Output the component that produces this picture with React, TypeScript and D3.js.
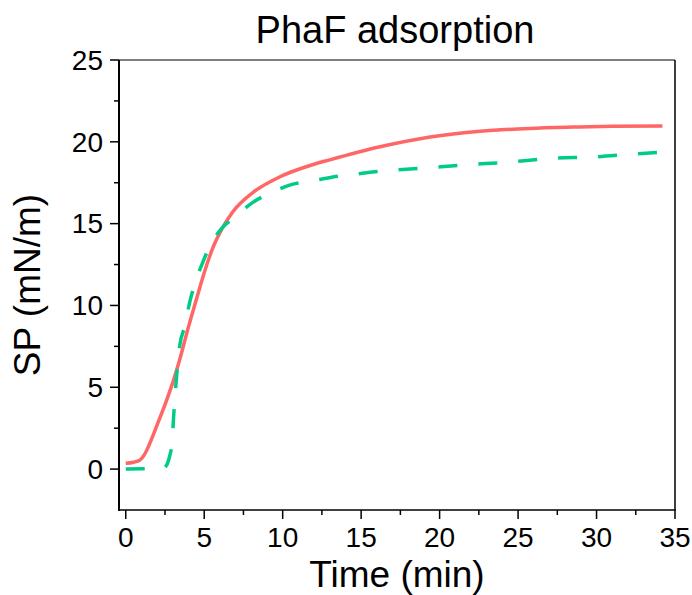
import React from "react";
import * as d3 from "d3";

const title = "PhaF adsorption";
const xLabel = "Time (min)";
const yLabel = "SP (mN/m)";
const xTicks = [0, 5, 10, 15, 20, 25, 30, 35];
const yTicks = [0, 5, 10, 15, 20, 25];

const redT = [0, 0.5, 0.9, 1.2, 1.5, 2.0, 2.6, 3.0, 3.44, 4.0, 4.6, 5.0, 5.5, 6.2, 6.8, 8.1, 9.8, 11.9, 13.0, 16.2, 19.4, 22.6, 25.7, 28.5, 31.0, 34.2];
const redSP = [0.35, 0.42, 0.55, 0.9, 1.5, 2.7, 4.2, 5.3, 6.7, 8.7, 10.7, 12.0, 13.4, 14.8, 15.7, 16.9, 17.85, 18.6, 18.9, 19.7, 20.3, 20.65, 20.82, 20.9, 20.95, 20.97];

const greenT = [0, 1.0, 2.4, 2.5, 2.8, 2.95, 3.05, 3.2, 3.45, 3.75, 4.1, 4.5, 4.85, 5.35, 6.1, 6.95, 8.1, 9.3, 10.6, 11.85, 13.2, 14.4, 15.7, 19.1, 21.7, 24.3, 27.2, 29.8, 32.3, 34.9];
const greenSP = [0.0, 0.02, 0.05, 0.1, 0.8, 1.6, 3.2, 5.2, 7.6, 8.7, 10.3, 11.6, 12.5, 13.6, 14.7, 15.4, 16.3, 16.9, 17.4, 17.6, 17.85, 18.0, 18.15, 18.4, 18.6, 18.75, 19.0, 19.07, 19.25, 19.4];

const W = 692;
const H = 595;
const left = 119;
const right = 675;
const top = 60;
const bottom = 510;
const font = "'Liberation Sans', Arial, sans-serif";

export default function App() {
  const x = d3.scaleLinear().domain([-0.43, 35]).range([left, right]);
  const y = d3.scaleLinear().domain([-2.5, 25]).range([bottom, top]);

  const line = d3
    .line<[number, number]>()
    .x((d) => x(d[0]))
    .y((d) => y(d[1]))
    .curve(d3.curveMonotoneX);

  const red = redT.map((t, i) => [t, redSP[i]] as [number, number]);
  const green = greenT.map((t, i) => [t, greenSP[i]] as [number, number]);

  const xMinor = d3.range(0, 35.01, 2.5).filter((v) => v % 5 !== 0);
  const yMinor = d3.range(0, 25.01, 2.5).filter((v) => v % 5 !== 0);

  return (
    <svg
      width={W}
      height={H}
      style={{ position: "absolute", left: 0, top: 0, background: "#fff" }}
    >
      <rect x={0} y={0} width={W} height={H} fill="#fff" />
      <defs>
        <clipPath id="plot">
          <rect x={left} y={top} width={right - left} height={bottom - top} />
        </clipPath>
      </defs>

      <g clipPath="url(#plot)">
        <path d={line(red) || ""} fill="none" stroke="#ff6666" strokeWidth={3.5} />
        <path
          d={line(green) || ""}
          fill="none"
          stroke="#00cc88"
          strokeWidth={3.5}
          strokeDasharray="19 21"
        />
      </g>

      {/* frame */}
      <line x1={left} x2={right} y1={top} y2={top} stroke="#000" strokeWidth={1} />
      <line x1={right} x2={right} y1={top} y2={bottom} stroke="#000" strokeWidth={1.5} />
      <line x1={left} x2={right + 0.75} y1={bottom} y2={bottom} stroke="#000" strokeWidth={1.5} />
      <line x1={left} x2={left} y1={top} y2={bottom + 1} stroke="#000" strokeWidth={2} />

      {/* y ticks */}
      {yTicks.map((v) => (
        <g key={"y" + v}>
          <line x1={left - 9} x2={left} y1={y(v)} y2={y(v)} stroke="#000" strokeWidth={1.5} />
          <text
            x={left - 16}
            y={y(v)}
            dy="0.35em"
            textAnchor="end"
            fontFamily={font}
            fontSize={28}
            fill="#000"
          >
            {v}
          </text>
        </g>
      ))}
      {yMinor.map((v) => (
        <line key={"ym" + v} x1={left - 5} x2={left} y1={y(v)} y2={y(v)} stroke="#000" strokeWidth={1.5} />
      ))}

      {/* x ticks */}
      {xTicks.map((v) => (
        <g key={"x" + v}>
          <line x1={x(v)} x2={x(v)} y1={bottom} y2={bottom + 9} stroke="#000" strokeWidth={1.5} />
          <text
            x={x(v)}
            y={547}
            textAnchor="middle"
            fontFamily={font}
            fontSize={28}
            fill="#000"
          >
            {v}
          </text>
        </g>
      ))}
      {xMinor.map((v) => (
        <line key={"xm" + v} x1={x(v)} x2={x(v)} y1={bottom} y2={bottom + 5} stroke="#000" strokeWidth={1.5} />
      ))}

      <text
        x={(left + right) / 2 - 2}
        y={43}
        textAnchor="middle"
        fontFamily={font}
        fontSize={38}
        fill="#000"
      >
        {title}
      </text>
      <text
        x={(left + right) / 2}
        y={587}
        textAnchor="middle"
        fontFamily={font}
        fontSize={37}
        fill="#000"
      >
        {xLabel}
      </text>
      <text
        transform={`translate(40, ${(top + bottom) / 2}) rotate(-90)`}
        textAnchor="middle"
        fontFamily={font}
        fontSize={37}
        fill="#000"
      >
        {yLabel}
      </text>
    </svg>
  );
}
